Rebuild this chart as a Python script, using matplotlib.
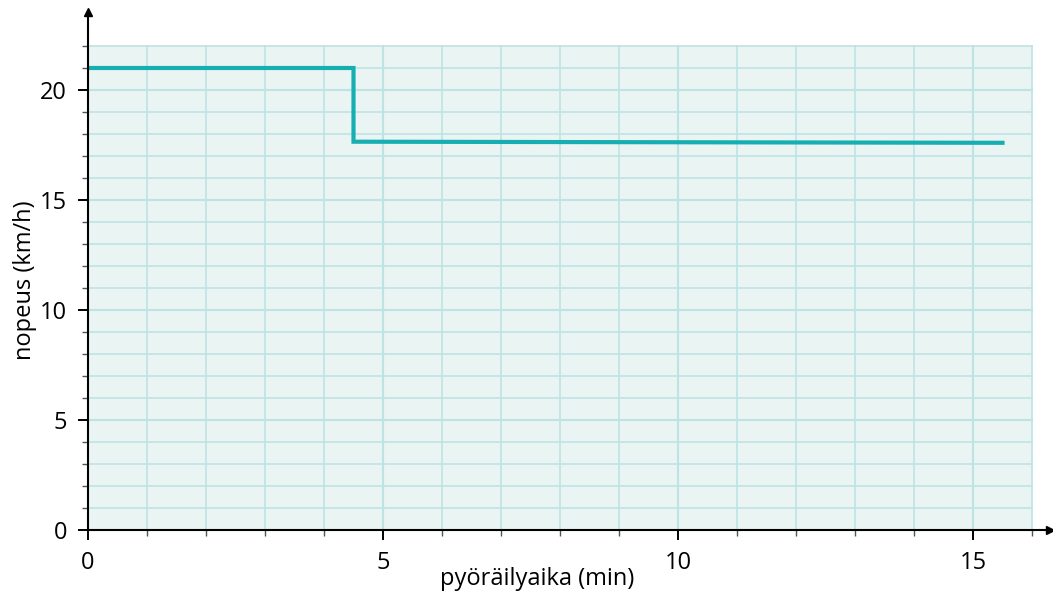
import numpy as np
import matplotlib.pyplot as plt
from matplotlib.patches import Rectangle

# Data: cycling speed as a step function
aika = [0, 4.5, 4.5, 15.5]          # min
nopeus = [21.0, 21.0, 17.65, 17.6]  # km/h

x_ticks = [0, 5, 10, 15]
y_ticks = [0, 5, 10, 15, 20]

grid_color = '#bde3e5'
bg_color = '#eaf5f3'
line_color = '#17aeb2'

plt.rcParams['font.family'] = ['Open Sans', 'DejaVu Sans']

fig = plt.figure(figsize=(10.53, 5.97), dpi=100)
W, H = 1053, 597
left, right, bottom, top = 88, 1050, 530, 12
ax = fig.add_axes([left / W, 1 - bottom / H, (right - left) / W, (bottom - top) / H])

xmax = (right - left) / 59.0
ymax = (bottom - top) / 22.0
ax.set_xlim(0, xmax)
ax.set_ylim(0, ymax)

# grid paper
ax.add_patch(Rectangle((0, 0), 16, 22, facecolor=bg_color, edgecolor='none', zorder=0))
for gx in range(1, 17):
    ax.plot([gx, gx], [0, 22], color=grid_color, lw=1.2 if gx % 5 else 1.6, zorder=1)
for gy in range(1, 23):
    ax.plot([0, 16], [gy, gy], color=grid_color, lw=1.2 if gy % 5 else 1.6, zorder=1)

ax.plot(aika, nopeus, color=line_color, lw=3, zorder=3, solid_joinstyle='miter')

for s in ['top', 'right']:
    ax.spines[s].set_visible(False)
for s in ['left', 'bottom']:
    ax.spines[s].set_linewidth(1.5)
    ax.spines[s].set_zorder(4)

ax.plot(1, 0, '>k', transform=ax.transAxes, clip_on=False, ms=6)
ax.plot(0, 1, '^k', transform=ax.transAxes, clip_on=False, ms=6)

ax.set_xticks(x_ticks)
ax.set_yticks(y_ticks)
ax.set_xticks(range(0, 17), minor=True)
ax.set_yticks(range(0, 23), minor=True)
ax.tick_params(axis='both', which='major', direction='out', length=7, width=1.4, labelsize=17)
ax.tick_params(axis='both', which='minor', direction='out', length=4, width=1.0, color='#555555')
ax.tick_params(axis='x', which='major', pad=8)
ax.tick_params(axis='y', which='major', pad=8)

ax.set_xlabel('pyöräilyaika (min)', fontsize=17)
ax.xaxis.set_label_coords((537 - left) / (right - left), -(567 - bottom) / (bottom - top))
ax.set_ylabel('nopeus (km/h)', fontsize=17)
ax.yaxis.set_label_coords(-(88 - 37) / (right - left), (bottom - 280) / (bottom - top))

fig.savefig('out.png', dpi=100)
